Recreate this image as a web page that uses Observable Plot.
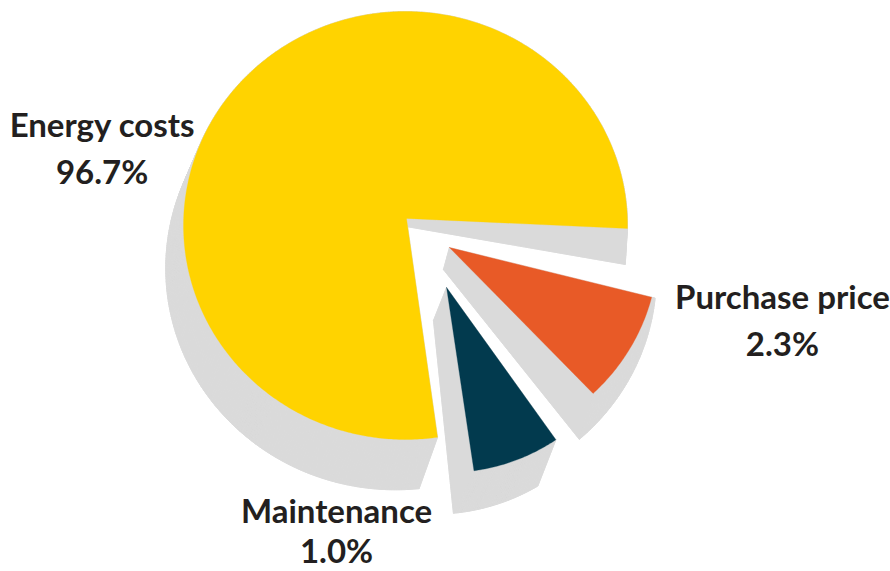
<!DOCTYPE html>
<html>
<head>
<meta charset="utf-8">
<script src="https://cdn.jsdelivr.net/npm/d3@7"></script>
<script src="https://cdn.jsdelivr.net/npm/@observablehq/plot@0.6"></script>
<style>
  html, body { margin: 0; padding: 0; background: #ffffff; }
  #chart svg { display: block; }
</style>
</head>
<body>
<div id="chart"></div>
<script>
// ---- data (as labelled in the reference) ----
const categories = ["Energy costs", "Purchase price", "Maintenance"];
const values = [96.7, 2.3, 1.0];
const valueLabels = values.map(v => v.toFixed(1) + "%");

// ---- styling ----
const colors = ["#FFD300", "#E85A27", "#023A4E"];
const shadowColor = "#DADADA";
const textColor = "#231F20";

// ---- layout (the original illustration is not drawn to scale; angles read from it) ----
// unit circle coordinates, angles in degrees clockwise from 3 o'clock
const W = 890, H = 571;
const CX = 405, CY = 225, RX = 222, RY = 214;   // pixel placement of the unit pie
const slices = [
  { front: { apex: [0.0045, -0.033], c: [0, 0], r: 1.0, a0: 81.7, a1: 360.8 },
    back:  { apex: [-0.0225, 0.0], c: [-0.045, 0.20], r: 1.035, a0: 84.1, a1: 359.0 },
    label: { ang: 192.5, rad: 1.40, dy: 0, lh: 47 } },
  { front: { apex: [0.198, 0.103], c: [0.198, 0.103], r: 0.94, a0: 14.3, a1: 46.5 },
    back:  { apex: [0.171, 0.206], c: [0.113, 0.234], r: 1.017, a0: 6.0, a1: 48.8 },
    label: { ang: 16.4, rad: 1.77, dy: 0, lh: 47 } },
  { front: { apex: [0.185, 0.290], c: [0.185, 0.290], r: 0.865, a0: 55.3, a1: 81.8 },
    back:  { apex: [0.126, 0.444], c: [0.126, 0.444], r: 0.905, a0: 58.7, a1: 84.3 },
    label: { ang: 101.7, rad: 1.532, dy: -7, lh: 40 } }
];

function outline(g, n) {
  const pts = [g.apex];
  for (let i = 0; i <= n; i++) {
    const a = (g.a0 + (g.a1 - g.a0) * i / n) * Math.PI / 180;
    pts.push([g.c[0] + g.r * Math.cos(a), g.c[1] + g.r * Math.sin(a)]);
  }
  return pts;
}

const shadowRows = [];
const frontRows = [];
slices.forEach((s, k) => {
  const n = Math.max(20, Math.round(Math.abs(s.front.a1 - s.front.a0) * 1.5));
  const F = outline(s.front, n);
  const B = outline(s.back, n);
  // back face
  B.concat([B[0]]).forEach(p => shadowRows.push({ id: `b${k}`, x: p[0], y: p[1] }));
  // extrusion sides between front and back outlines
  for (let i = 0; i < F.length; i++) {
    const j = (i + 1) % F.length;
    [F[i], F[j], B[j], B[i], F[i]].forEach(p => shadowRows.push({ id: `q${k}_${i}`, x: p[0], y: p[1] }));
  }
  F.concat([F[0]]).forEach(p => frontRows.push({ id: k, cat: categories[k], x: p[0], y: p[1] }));
});

const labelRows = categories.map((c, i) => {
  const L = slices[i].label;
  const a = L.ang * Math.PI / 180;
  return { text: c + "\n" + valueLabels[i], lh: L.lh,
           x: L.rad * Math.cos(a), y: L.rad * Math.sin(a) + (23.5 + L.dy) / RY };
});

const textStyle = {
  x: "x", y: "y", text: "text",
  fontFamily: "Lato", fontWeight: "bold", fontSize: 33,
  lineAnchor: "bottom", textAnchor: "middle", fill: textColor
};

const chart = Plot.plot({
  width: W,
  height: H,
  margin: 0,
  style: { background: "#ffffff", overflow: "visible" },
  x: { domain: [-CX / RX, (W - CX) / RX], range: [0, W], axis: null },
  y: { domain: [-CY / RY, (H - CY) / RY], range: [0, H], axis: null },
  color: { domain: categories, range: colors },
  marks: [
    Plot.line(shadowRows, { x: "x", y: "y", z: "id", fill: shadowColor, stroke: shadowColor, strokeWidth: 0.8, curve: "linear" }),
    Plot.line(frontRows, { x: "x", y: "y", z: "id", fill: "cat", stroke: "cat", strokeWidth: 0.3, curve: "linear" }),
    Plot.text(labelRows.filter(d => d.lh === 47), { ...textStyle, lineHeight: 47 / 33 }),
    Plot.text(labelRows.filter(d => d.lh === 40), { ...textStyle, lineHeight: 40 / 33 })
  ]
});
document.getElementById("chart").appendChild(chart);
</script>
</body>
</html>
